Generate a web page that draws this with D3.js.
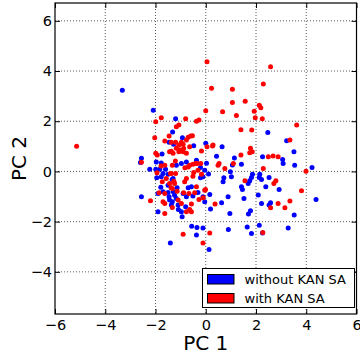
<!DOCTYPE html>
<html>
<head>
<meta charset="utf-8">
<script src="https://cdn.jsdelivr.net/npm/d3@7"></script>
<style>
  html, body { margin: 0; padding: 0; background: #fff; }
  svg { display: block; font-family: "DejaVu Sans", sans-serif; }
</style>
</head>
<body>
<svg id="chart" width="360" height="356"></svg>
<script>
// PCA scores, first two components
const withoutKan = [
  [-3.32,3.23],[-2.09,2.44],[-1.2,2.1],[-1.32,1.57],[-1.46,1.16],[-1.28,1.08],[-0.93,1.34],
  [-0.48,1.02],[0,1.12],[0.65,0.98],[2.47,1.55],[3.22,1.22],[3.51,0.78],[2.26,0.58],
  [3.06,0.48],[3.08,0.32],[3.54,0.25],[4.23,0.16],[1.42,0.29],[1.14,0.53],[1.06,0.26],[0.43,0.6],
  [0.98,-0.01],[1.02,-0.21],[0.72,-0.25],[1.86,-0.11],[1.82,-0.24],[1.75,-0.37],[1.69,-0.48],
  [2.15,-0.11],[2.13,-0.24],[2.22,-0.32],[2.52,-0.24],[2.92,-0.72],[1.42,-0.61],[1.46,-0.72],
  [2.39,-0.61],[2.09,-0.94],[1.52,-1.08],[2.58,-1.25],[2.52,-1.34],[2.22,-1.28],[1.78,-1.57],
  [1.7,-1.7],[0.96,-1.68],[1.65,-2.21],[2.13,-2.14],[2.26,-2.45],[1.82,-2.47],[4.39,-1.12],
  [3.52,-1.74],[3.28,-2.25],[0.69,-0.41],[0.63,-1.25],[0.19,-1.5],[0.89,-1.01],[0.9,-2.31],
  [0.13,-3.11],[-0.37,-2.53],[-0.56,-2.18],[-0.35,-2.23],[-0.11,-2.25],[-0.37,0.45],[-0.77,0.38],
  [-0.97,0.32],[-0.21,0.16],[-0.04,0.05],[-0.11,-0.21],[-0.21,-0.25],[-0.57,-0.61],[-0.7,-0.65],
  [-0.31,-0.84],[-0.51,-0.98],[-0.77,-1.01],[-0.9,-0.88],[-0.11,-1.01],[-0.04,-1.21],[0.16,-0.92],
  [-0.97,-1.61],[-0.94,-1.81],[-0.8,-1.41],[0.03,0.33],[0.11,-0.1],[-2.56,0.52],[-2.6,0.36],
  [-1.74,0.69],[-1.97,0.38],[-1.77,0.34],[-2.23,0.09],[-1.99,0.09],[-1.83,0.09],[-1.6,0.09],
  [-1.17,0.25],[-1.7,-0.08],[-1.5,-0.11],[-1.77,-0.21],[-1.3,-0.28],[-1.5,-0.55],[-2.56,-1.01],
  [-1.9,-0.88],[-1.7,-0.81],[-1.5,-0.84],[-1.46,-1.01],[-1.44,-1.14],[-1.33,-1.21],[-1.37,-1.34],
  [-1.24,-0.95],[-1.17,-1.08],[-1.9,-1.61],[-1.41,-2.85],[-1.1,-1.34],[-1.95,-0.25],[-1.79,-0.63],
  [-1.29,-0.81],[-1.14,-0.65],[-1.34,-0.32],[-1.09,-1.52]
];

const withKan = [
  [-5.14,1.0],[-1.77,2.14],[-1.99,1.98],[-1.07,1.85],[-1.17,1.78],[-2.03,1.34],[-1.46,1.41],
  [-1.63,1.21],[-1.37,1.16],[-1.2,1.16],[-1.44,0.78],[-1.3,0.72],[-1.99,0.72],[-1.17,0.92],
  [-1.07,1.05],[-1.07,0.78],[0.05,4.37],[0.23,3.31],[0.0,2.42],[0.67,2.38],[-0.8,2.1],
  [-0.37,2.0],[-0.27,2.05],[-0.7,1.36],[-0.6,1.41],[-0.53,1.42],[-0.77,1.25],[-0.97,1.16],
  [-0.9,1.08],[-0.64,0.98],[0.05,0.98],[0.27,1.01],[0.29,1.05],[-0.17,0.81],[-0.88,0.92],
  [-1.04,0.85],[-0.9,0.78],[-0.77,0.72],[2.58,4.17],[2.29,3.48],[1.06,3.27],[1.06,2.75],
  [1.57,2.8],[2.13,2.64],[2.19,2.54],[1.93,2.4],[1.22,2.23],[1.97,2.14],[2.25,2.1],[1.4,1.66],
  [1.83,1.65],[1.78,0.92],[1.85,0.78],[1.75,0.74],[1.4,0.65],[3.62,1.85],[3.35,1.25],
  [2.49,0.58],[2.68,0.61],[2.88,0.58],[1.1,0.32],[2.29,0.12],[1.56,-0.37],[2.79,-0.37],
  [2.71,-0.48],[2.88,-1.28],[2.58,-1.45],[3.99,0.01],[3.81,-0.77],[3.35,-1.18],[3.15,-1.45],
  [2.27,-2.43],[0.53,0.32],[0.49,0.25],[0.76,0.12],[0.37,-1.3],[0.16,-2.45],[-0.11,-2.85],
  [-0.9,-2.5],[-0.64,0.25],[-0.51,0.29],[-0.4,0.32],[-0.31,0.05],[-0.51,-0.19],[-0.17,-0.11],
  [-0.77,-0.28],[-0.84,-0.41],[-0.37,-0.61],[-0.44,-0.85],[-0.67,-0.88],[-0.88,-0.85],
  [-0.97,-1.28],[-0.57,-1.3],[-0.04,-0.75],[-0.27,-1.12],[-0.77,-1.61],[-0.57,-1.61],
  [-0.64,-1.52],[-0.1,-1.05],[-0.01,-0.72],[-2.56,0.37],[-1.93,0.65],[-1.37,0.8],[-1.63,0.25],
  [-1.33,0.25],[-1.94,-0.05],[-1.37,-0.08],[-1.2,-0.08],[-1.57,-0.28],[-1.73,-0.41],[-1.44,-0.48],
  [-1.33,-0.68],[-1.24,-0.48],[-2.2,-1.17],[-1.63,-0.88],[-1.7,-1.21],[-1.63,-1.28],[-1.33,-1.44],
  [-1.63,-1.68],[-1.1,-1.14],[-1.86,-0.85],[-1.14,-0.79],[-1.38,-0.65],[-1.27,-0.39],[-0.2,0.32],
  [-0.35,0.32],[-0.7,0.18],[-0.83,0.15],[-0.48,-0.04],[-1.78,0.22],[-1.21,0.42],[-1.4,-0.08]
];

const xTicks = [-6, -4, -2, 0, 2, 4, 6];
const yTicks = [-4, -2, 0, 2, 4, 6];
const seriesNames = ["without KAN SA", "with KAN SA"];
const seriesColors = ["#0000ff", "#ff0000"];

const svg = d3.select("#chart");
const plotL = 55, plotR = 356.5, plotT = 3, plotB = 314;

const x = d3.scaleLinear().domain([-6, 6]).range([plotL, plotR]);
const y = d3.scaleLinear().domain([-5.68, 6.71]).range([plotB, plotT]);

// dotted grid
const grid = svg.append("g").attr("stroke", "#000").attr("stroke-width", 0.8)
  .attr("stroke-dasharray", "1,2").attr("opacity", 0.8);
grid.selectAll(".gx").data(xTicks.filter(t => t > -6 && t < 6)).join("line")
  .attr("x1", d => x(d)).attr("x2", d => x(d)).attr("y1", plotT).attr("y2", plotB);
grid.selectAll(".gy").data(yTicks).join("line")
  .attr("y1", d => y(d)).attr("y2", d => y(d)).attr("x1", plotL).attr("x2", plotR);

// points: first series underneath, second on top
const plot = svg.append("g");
[withoutKan, withKan].forEach((pts, i) => {
  plot.append("g").selectAll("circle").data(pts).join("circle")
    .attr("cx", d => x(d[0])).attr("cy", d => y(d[1])).attr("r", 2.5)
    .attr("fill", seriesColors[i]);
});

// axes with inward ticks on all four sides
const fmt = d3.format("d");
const styleAxis = g => {
  g.select(".domain").remove();
  g.selectAll(".tick line").attr("stroke", "#000").attr("stroke-width", 1);
  g.selectAll(".tick text").attr("fill", "#000").attr("font-size", "14.5px")
    .attr("font-family", "DejaVu Sans, sans-serif");
};
svg.append("g").attr("transform", `translate(0,${plotB})`)
  .call(d3.axisBottom(x).tickValues(xTicks).tickFormat(fmt).tickSize(-5).tickPadding(6))
  .call(styleAxis);
svg.append("g").attr("transform", `translate(0,${plotT})`)
  .call(d3.axisTop(x).tickValues(xTicks).tickFormat("").tickSize(-5))
  .call(styleAxis);
svg.append("g").attr("transform", `translate(${plotL},0)`)
  .call(d3.axisLeft(y).tickValues(yTicks).tickFormat(fmt).tickSize(-5).tickPadding(3))
  .call(styleAxis);
svg.append("g").attr("transform", `translate(${plotR},0)`)
  .call(d3.axisRight(y).tickValues(yTicks).tickFormat("").tickSize(-5))
  .call(styleAxis);

// frame
svg.append("rect").attr("x", plotL).attr("y", plotT)
  .attr("width", plotR - plotL).attr("height", plotB - plotT)
  .attr("fill", "none").attr("stroke", "#000").attr("stroke-width", 1.2);

// axis titles
svg.append("text").attr("x", (plotL + plotR) / 2).attr("y", 350)
  .attr("text-anchor", "middle").attr("font-size", "20px").text("PC 1");
svg.append("text").attr("transform", `translate(26,${(plotT + plotB) / 2}) rotate(-90)`)
  .attr("text-anchor", "middle").attr("font-size", "20px").text("PC 2");

// legend
const lg = svg.append("g");
lg.append("rect").attr("x", 202.5).attr("y", 268.5).attr("width", 152).attr("height", 39)
  .attr("fill", "#fff").attr("stroke", "#000").attr("stroke-width", 1);
seriesNames.forEach((name, i) => {
  const yy = 274.5 + i * 19;
  lg.append("rect").attr("x", 207.5).attr("y", yy).attr("width", 26.5).attr("height", 9.5)
    .attr("fill", seriesColors[i]).attr("stroke", "#000").attr("stroke-width", 1);
  lg.append("text").attr("x", 244.5).attr("y", yy + 9.8).attr("font-size", "13px")
    .attr("fill", "#000").text(name);
});
</script>
</body>
</html>
